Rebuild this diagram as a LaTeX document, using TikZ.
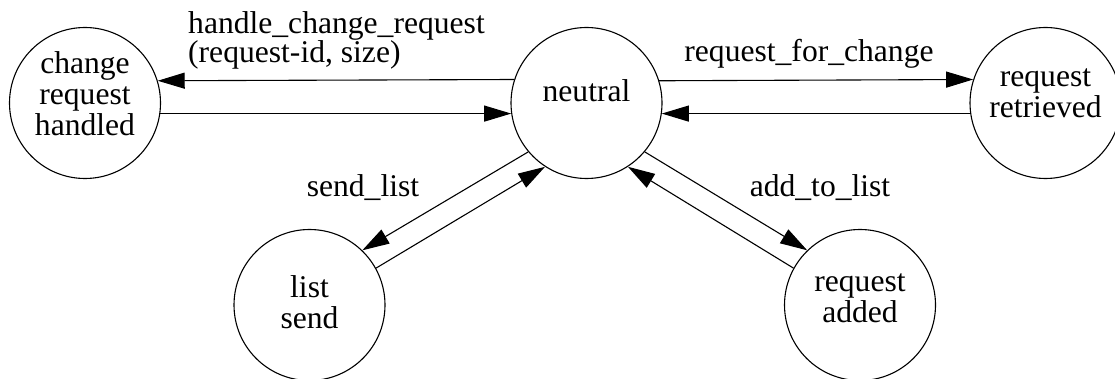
\documentclass[tikz,border=0pt]{standalone}
\usepackage{fontspec}
\setmainfont{Liberation Serif}
\usetikzlibrary{arrows.meta}
\tikzset{
  state/.style={draw, circle, minimum size=151pt, inner sep=0pt, line width=1.1pt,
    align=center, font=\fontsize{31.6pt}{31pt}\selectfont},
  lbl/.style={inner sep=0pt, font=\fontsize{31.6pt}{28pt}\selectfont},
  tr/.style={line width=1.1pt, -{Triangle[length=27pt,width=16pt]}}
}
\begin{document}
\begin{tikzpicture}[x=1pt,y=-1pt]
\useasboundingbox (0,0) rectangle (1115,379);
\node[state, text height=66pt, text depth=0pt] (crh) at (85,103) {change\\request\\handled};
\node[state, text height=10pt, text depth=12pt] (neutral) at (586.5,103) {neutral};
\node[state, text height=30pt, text depth=0pt] (rr) at (1045.5,103) {request\\retrieved};
\node[state, text height=46pt, text depth=0pt] (ls) at (309.5,305) {list\\send};
\node[state, text height=35pt, text depth=0pt] (ra) at (860,305) {request\\added};

\draw[tr] (neutral.162.3) -- (crh.17.7);
\draw[tr] (crh.-8.4) -- (neutral.188.4);
\draw[tr] (neutral.17.7) -- (rr.162.3);
\draw[tr] (rr.188.4) -- (neutral.-8.4);
\draw[tr] (neutral.220) -- (ls.46);
\draw[tr] (ls.29) -- (neutral.237);
\draw[tr] (neutral.320) -- (ra.134);
\draw[tr] (ra.151) -- (neutral.303);

\node[lbl, align=left, anchor=base west] (l1) at (188,63) {handle\_change\_request\\(request-id, size)};
\node[lbl, anchor=base] (l2) at (809,62) {request\_for\_change};
\node[lbl, anchor=base] (l3) at (363,197) {send\_list};
\node[lbl, anchor=base] (l4) at (820,197) {add\_to\_list};
\end{tikzpicture}
\end{document}
